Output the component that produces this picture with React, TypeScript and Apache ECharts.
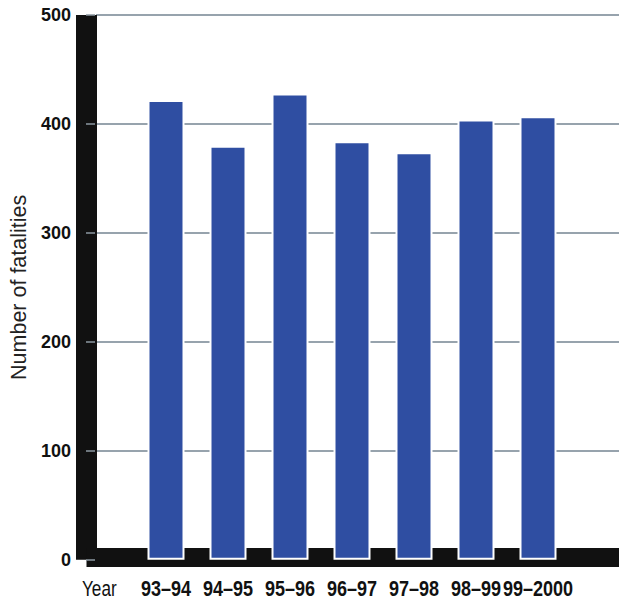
import React, { useEffect, useRef } from "react";
import * as echarts from "echarts";

// Fatalities per season
const seasons = ["93–94", "94–95", "95–96", "96–97", "97–98", "98–99", "99–2000"];
const fatalities = [422, 380, 428, 384, 374, 404, 407];
const yTicks = { min: 0, max: 500, step: 100 };

const BAR_BLUE = "#2f4ea2";
const INK = "#111111";
const GRID_GREY = "#97a3ad";
const SANS = "Liberation Sans, Arial, sans-serif";
// horizontal squeeze that gives the plain sans a condensed look
const CONDENSE = 0.82;
const LABEL_Y = 588;

export default function App() {
  const ref = useRef<HTMLDivElement>(null);

  useEffect(() => {
    if (!ref.current) return;
    const chart = echarts.init(ref.current, null, { renderer: "svg" });
    const top = 15;
    const bottom = 43.3;

    chart.setOption({
      animation: false,
      backgroundColor: "#ffffff",
      grid: [
        // frame grid: thick black axes and grey rules across the full width
        { left: 91, right: 0, top, bottom },
        // bar grid: seven evenly spaced category slots
        { left: 135, width: 434, top, bottom },
      ],
      xAxis: [
        {
          type: "category",
          gridIndex: 0,
          data: [""],
          offset: -2,
          axisLine: {
            show: true,
            onZero: false,
            lineStyle: { color: INK, width: 19, cap: "square" },
          },
          axisTick: { show: false },
          axisLabel: { show: false },
          splitLine: { show: false },
        },
        {
          type: "category",
          gridIndex: 1,
          data: seasons,
          axisLine: { show: false },
          axisTick: { show: false },
          // season labels are drawn as condensed graphic texts below
          axisLabel: { show: false },
        },
      ],
      yAxis: [
        {
          type: "value",
          gridIndex: 0,
          min: yTicks.min,
          max: yTicks.max,
          interval: yTicks.step,
          offset: 10,
          axisLine: {
            show: true,
            onZero: false,
            lineStyle: { color: INK, width: 21, cap: "butt" },
          },
          axisTick: {
            show: true,
            inside: true,
            length: 9,
            lineStyle: { color: "#8d98a2", width: 1.5 },
          },
          axisLabel: {
            color: INK,
            fontFamily: SANS,
            fontWeight: "bold",
            fontSize: 18,
            margin: 15,
          },
          splitLine: { show: true, lineStyle: { color: GRID_GREY, width: 2 } },
          name: "Number of fatalities",
          nameLocation: "middle",
          nameGap: 56,
          nameTextStyle: { color: "#222222", fontFamily: SANS, fontSize: 21.5 },
        },
        {
          type: "value",
          gridIndex: 1,
          min: yTicks.min,
          max: yTicks.max,
          interval: yTicks.step,
          show: false,
        },
      ],
      series: [
        {
          type: "bar",
          xAxisIndex: 1,
          yAxisIndex: 1,
          data: fatalities,
          barWidth: 37,
          itemStyle: { color: BAR_BLUE, borderColor: "#ffffff", borderWidth: 2 },
        },
      ],
    });

    // place each season label under its category slot, using the axis scale
    const seasonLabels = seasons.map((s) => ({
      type: "text",
      x: chart.convertToPixel({ xAxisIndex: 1 }, s) as number,
      y: LABEL_Y,
      scaleX: CONDENSE,
      style: {
        text: s,
        fill: INK,
        fontFamily: SANS,
        fontWeight: "bold",
        fontSize: 22,
        align: "center",
        verticalAlign: "middle",
      },
    }));

    chart.setOption({
      graphic: [
        {
          type: "text",
          x: 82,
          y: LABEL_Y,
          scaleX: 0.78,
          style: {
            text: "Year",
            fill: INK,
            fontFamily: SANS,
            fontSize: 22,
            align: "left",
            verticalAlign: "middle",
          },
        },
        ...seasonLabels,
      ],
    });

    return () => chart.dispose();
  }, []);

  return (
    <div
      ref={ref}
      style={{ position: "fixed", left: 0, top: 0, width: 619, height: 603 }}
    />
  );
}
